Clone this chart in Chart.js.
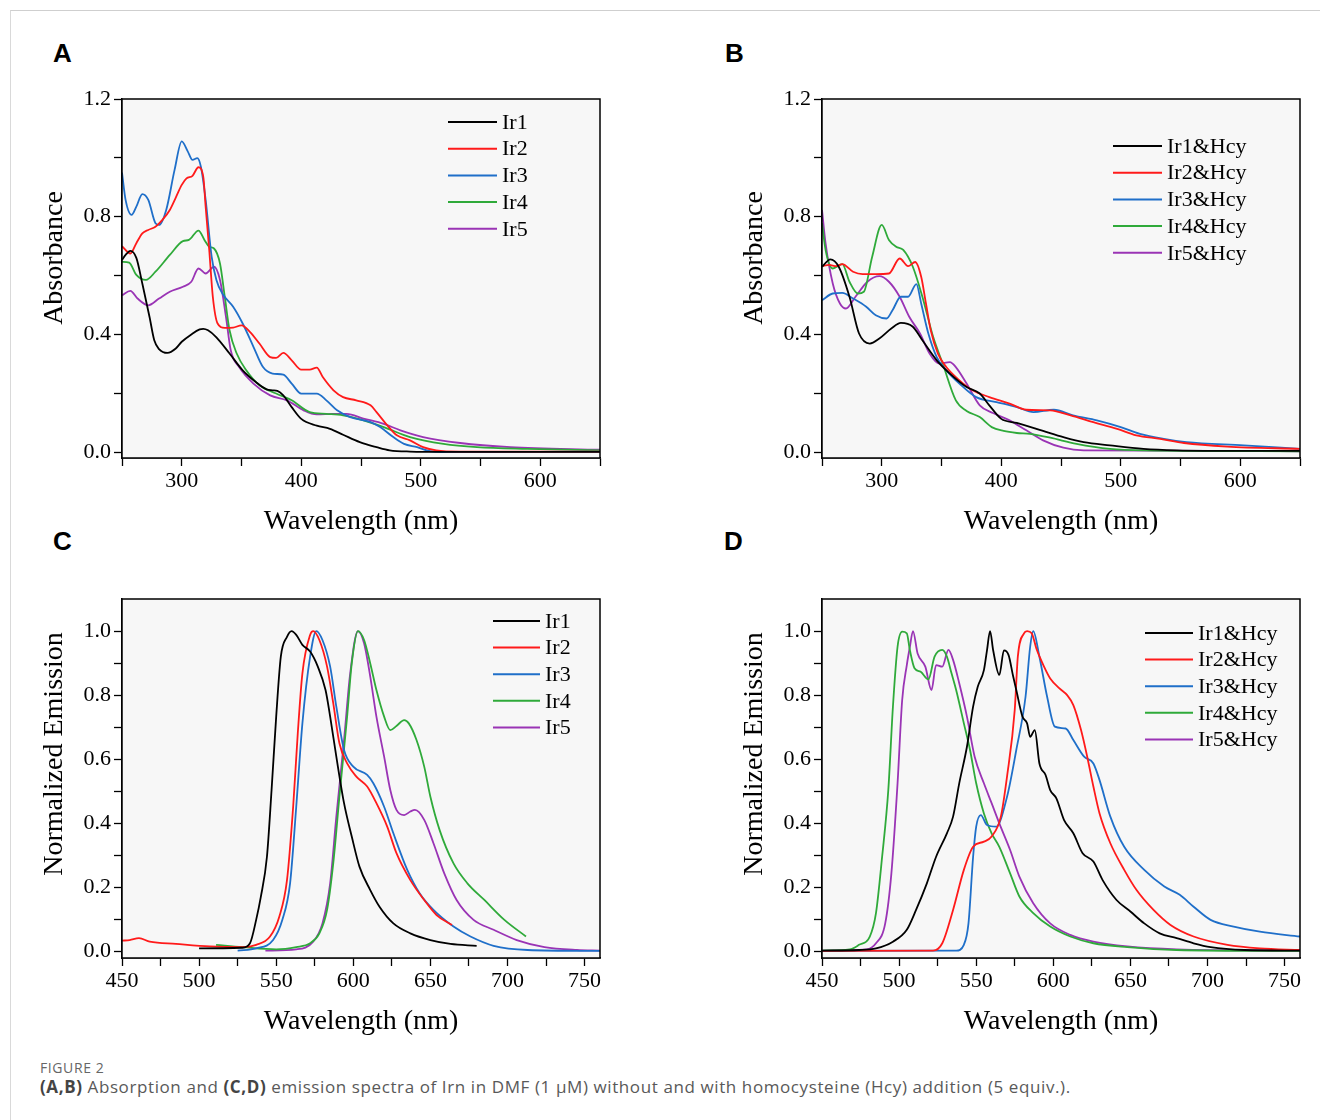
<!DOCTYPE html>
<html><head><meta charset="utf-8">
<script src="https://cdn.jsdelivr.net/npm/chart.js@4.4.1/dist/chart.umd.min.js"></script>
<style>
html,body{margin:0;padding:0;background:#fff;width:1320px;height:1120px;overflow:hidden;}
#page{position:absolute;left:10px;top:10px;width:1320px;height:1120px;border-top:1px solid #cfcfcf;border-left:1px solid #d9d9d9;}
canvas{position:absolute;}
.lbl{position:absolute;font:bold 26px "Liberation Sans",Arial,sans-serif;line-height:26px;color:#000;}
.cap1{position:absolute;left:40px;top:1060px;font:14px "Open Sans",sans-serif;letter-spacing:0.6px;line-height:16px;color:#666;}
.cap2{position:absolute;left:40px;top:1076px;font:17px "Open Sans",sans-serif;letter-spacing:0.6px;line-height:22px;color:#595959;white-space:nowrap;}
.cap2 b{color:#444;}
</style></head>
<body>
<div id="page"></div>
<div class="lbl" style="left:53px;top:40px">A</div>
<div class="lbl" style="left:725px;top:40px">B</div>
<div class="lbl" style="left:53px;top:528px">C</div>
<div class="lbl" style="left:724px;top:528px">D</div>
<canvas id="cA" width="660" height="460" style="left:0;top:80px"></canvas>
<canvas id="cB" width="620" height="460" style="left:700px;top:80px"></canvas>
<canvas id="cC" width="660" height="460" style="left:0;top:580px"></canvas>
<canvas id="cD" width="620" height="460" style="left:700px;top:580px"></canvas>
<div class="cap1">FIGURE 2</div>
<div class="cap2"><b>(A,B)</b> Absorption and <b>(C,D)</b> emission spectra of Irn in DMF (1 μM) without and with homocysteine (Hcy) addition (5 equiv.).</div>
<script>
// ---------- series names & colours ----------
const absNames = ['Ir1','Ir2','Ir3','Ir4','Ir5'];
const hcyNames = ['Ir1&Hcy','Ir2&Hcy','Ir3&Hcy','Ir4&Hcy','Ir5&Hcy'];
const seriesColors = ['#000000','#ff1a1a','#1f6fc9','#2faa3a','#9a34b5'];

// ---------- axis ticks ----------
const absXTicks = [250,300,350,400,450,500,550,600,650];
const absXLabels = ['','300','','400','','500','','600',''];
const absYTicks = [0,0.2,0.4,0.6,0.8,1.0,1.2];
const absYLabels = ['0.0','','0.4','','0.8','','1.2'];
const emXTicks = [450,475,500,525,550,575,600,625,650,675,700,725,750];
const emXLabels = ['450','','500','','550','','600','','650','','700','','750'];
const emYTicks = [0,0.1,0.2,0.3,0.4,0.5,0.6,0.7,0.8,0.9,1.0];
const emYLabels = ['0.0','','0.2','','0.4','','0.6','','0.8','','1.0'];

// ---------- (A) absorption ----------
const absIr1Wl = [250,253,257,262,267,273,277,281,288,295,300,308,315,318,322,329,340,351,362,371,376,380,385,392,400,413,424,435,449,463,474,491,520,560,600,650];
const absIr1 = [0.653,0.67,0.684,0.66,0.573,0.46,0.38,0.35,0.337,0.352,0.375,0.4,0.417,0.419,0.414,0.39,0.335,0.278,0.238,0.213,0.21,0.208,0.193,0.153,0.113,0.09,0.079,0.059,0.034,0.017,0.006,0.002,0.001,0.001,0.001,0.001];
const absIr2Wl = [250,257,262,267,272,278,284,290,295,300,304,309,314,318,320,323,326,330,336,343,350,357,365,374,379,385,392,400,407,413,418,427,435,446,458,463,472,480,491,502,513,533,560,600,650];
const absIr2 = [0.70,0.675,0.71,0.743,0.755,0.766,0.79,0.823,0.865,0.908,0.93,0.939,0.968,0.936,0.834,0.687,0.528,0.437,0.422,0.423,0.431,0.409,0.369,0.323,0.32,0.337,0.312,0.28,0.28,0.287,0.255,0.21,0.187,0.176,0.159,0.136,0.091,0.057,0.04,0.017,0.006,0.002,0.002,0.002,0.002];
const absIr3Wl = [250,253,258,262,267,272,278,281,287,294,300,305,309,313,316,320,325,329,334,343,351,360,368,376,385,392,400,413,421,430,441,458,466,477,486,497,508,530,560,600,650];
const absIr3 = [0.95,0.857,0.806,0.834,0.877,0.857,0.778,0.772,0.823,0.959,1.056,1.022,0.993,0.999,0.97,0.857,0.664,0.585,0.539,0.494,0.437,0.358,0.289,0.267,0.263,0.233,0.199,0.199,0.176,0.142,0.119,0.102,0.085,0.051,0.028,0.017,0.003,0.0,0.0,0.001,0.002];
const absIr4Wl = [250,256,262,270,278,290,301,306,314,319,323,327,332,336,340,346,354,365,379,392,407,421,435,452,469,491,519,547,589,650];
const absIr4 = [0.647,0.644,0.602,0.585,0.613,0.67,0.717,0.721,0.753,0.721,0.698,0.692,0.641,0.528,0.414,0.335,0.278,0.227,0.199,0.176,0.136,0.13,0.125,0.108,0.085,0.051,0.028,0.017,0.011,0.006];
const absIr5Wl = [250,257,263,272,281,290,301,308,314,320,327,332,337,341,348,360,374,388,402,413,427,438,452,469,483,502,533,575,650];
const absIr5 = [0.533,0.548,0.522,0.499,0.522,0.545,0.562,0.579,0.624,0.607,0.63,0.585,0.46,0.346,0.289,0.233,0.193,0.176,0.142,0.128,0.13,0.13,0.114,0.096,0.074,0.051,0.031,0.017,0.008];

// ---------- (B) absorption + Hcy ----------
const hAbsIr1Wl = [250,257,264,273,281,290,298,308,316,326,334,346,357,371,382,390,400,413,435,452,469,491,519,547,600,650];
const hAbsIr1 = [0.63,0.655,0.63,0.528,0.403,0.369,0.386,0.42,0.439,0.426,0.38,0.312,0.267,0.221,0.199,0.159,0.113,0.099,0.072,0.051,0.034,0.023,0.011,0.006,0.004,0.004];
const hAbsIr2Wl = [250,256,262,267,276,284,295,306,315,322,328,333,337,341,347,354,365,376,390,407,421,441,458,477,497,513,533,553,589,650];
const hAbsIr2 = [0.632,0.636,0.632,0.639,0.613,0.605,0.605,0.607,0.658,0.632,0.646,0.596,0.505,0.414,0.335,0.289,0.244,0.21,0.187,0.165,0.144,0.142,0.125,0.102,0.079,0.057,0.045,0.031,0.019,0.011];
const hAbsIr3Wl = [250,259,267,276,287,295,304,309,316,322,329,333,339,346,354,365,379,396,413,427,444,460,480,500,516,536,555,603,650];
const hAbsIr3 = [0.516,0.539,0.541,0.522,0.494,0.465,0.454,0.482,0.528,0.528,0.571,0.505,0.403,0.323,0.278,0.233,0.187,0.17,0.153,0.136,0.144,0.125,0.108,0.085,0.062,0.045,0.034,0.023,0.011];
const hAbsIr4Wl = [250,253,259,267,273,280,285,292,300,306,312,318,326,334,343,351,362,371,382,392,402,413,424,441,463,491,519,650];
const hAbsIr4 = [0.778,0.687,0.624,0.639,0.579,0.539,0.545,0.664,0.772,0.721,0.698,0.687,0.63,0.528,0.392,0.301,0.176,0.14,0.119,0.085,0.072,0.065,0.062,0.049,0.028,0.011,0.006,0.003];
const hAbsIr5Wl = [250,253,259,265,270,278,288,298,306,315,323,332,340,348,357,362,371,382,393,407,421,435,452,469,650];
const hAbsIr5 = [0.823,0.709,0.573,0.505,0.488,0.528,0.579,0.598,0.579,0.528,0.46,0.403,0.335,0.301,0.306,0.289,0.233,0.159,0.133,0.108,0.074,0.04,0.015,0.006,0.003];

// ---------- (C) emission ----------
const emIr1Wl = [500,528,533,537,540,544,547,550,553,557,560,563,567,572,577,582,585,589,594,599,604,611,617,626,637,650,663,680];
const emIr1 = [0.01,0.012,0.026,0.099,0.17,0.296,0.504,0.733,0.92,0.982,1.0,0.988,0.957,0.936,0.889,0.816,0.733,0.608,0.463,0.359,0.265,0.192,0.14,0.088,0.057,0.036,0.024,0.018];
const emIr2Wl = [450,455,461,468,485,507,528,537,546,552,557,561,564,567,572,574,578,583,587,591,596,602,609,615,622,628,637,646,654,664];
const emIr2 = [0.034,0.036,0.042,0.031,0.024,0.016,0.014,0.021,0.047,0.109,0.223,0.452,0.681,0.868,0.988,1.0,0.972,0.889,0.775,0.65,0.587,0.546,0.515,0.463,0.39,0.307,0.223,0.161,0.114,0.083];
const emIr3Wl = [525,537,548,554,559,563,567,572,576,580,585,589,594,600,609,613,620,626,635,643,652,665,676,691,713,760];
const emIr3 = [0.003,0.01,0.036,0.099,0.213,0.452,0.712,0.92,1.0,0.972,0.889,0.764,0.629,0.577,0.551,0.525,0.452,0.369,0.255,0.182,0.13,0.078,0.047,0.018,0.005,0.002];
const emIr4Wl = [511,528,550,563,572,578,583,587,591,596,599,603,607,611,615,620,624,628,633,636,641,646,650,656,665,674,685,698,712];
const emIr4 = [0.021,0.014,0.007,0.014,0.026,0.057,0.13,0.275,0.483,0.733,0.899,1.0,0.972,0.899,0.816,0.733,0.691,0.704,0.722,0.712,0.66,0.577,0.483,0.379,0.275,0.213,0.161,0.099,0.047];
const emIr5Wl = [543,563,574,580,585,589,594,598,603,607,611,615,620,624,628,633,637,640,646,652,659,667,678,691,706,724,745,760];
const emIr5 = [0.003,0.007,0.031,0.088,0.213,0.421,0.66,0.868,1.0,0.962,0.858,0.733,0.608,0.504,0.442,0.426,0.437,0.442,0.411,0.338,0.244,0.161,0.099,0.068,0.036,0.014,0.005,0.003];

// ---------- (D) emission + Hcy ----------
const hEmIr1Wl = [450,474,485,496,505,511,518,524,531,535,539,544,548,551,555,557,559,561,565,568,571,574,576,580,583,585,588,591,595,598,602,607,613,619,626,632,641,650,659,669,680,691,702,724,760];
const hEmIr1 = [0.003,0.005,0.01,0.031,0.068,0.13,0.213,0.296,0.369,0.421,0.525,0.639,0.764,0.826,0.878,0.94,1.0,0.94,0.863,0.94,0.925,0.858,0.816,0.733,0.712,0.67,0.691,0.587,0.551,0.504,0.478,0.41,0.369,0.307,0.281,0.223,0.161,0.125,0.088,0.057,0.042,0.026,0.014,0.005,0.003];
const hEmIr2Wl = [450,522,528,535,542,548,555,560,566,570,575,577,581,583,586,589,594,598,604,609,613,618,622,626,630,637,646,654,665,676,691,713,734,760];
const hEmIr2 = [0.002,0.003,0.026,0.13,0.255,0.327,0.343,0.359,0.421,0.546,0.754,0.92,0.993,1.0,0.993,0.946,0.889,0.852,0.821,0.8,0.769,0.691,0.608,0.515,0.431,0.338,0.255,0.192,0.13,0.083,0.047,0.021,0.01,0.005];
const hEmIr3Wl = [450,537,542,545,548,550,553,557,563,570,576,582,585,587,591,596,601,608,613,620,626,630,637,646,659,672,682,691,702,717,734,760];
const hEmIr3 = [0.002,0.003,0.021,0.088,0.296,0.39,0.426,0.395,0.39,0.483,0.629,0.795,0.951,1.0,0.92,0.795,0.702,0.696,0.66,0.608,0.587,0.535,0.421,0.327,0.255,0.203,0.177,0.14,0.099,0.078,0.062,0.047];
const hEmIr4Wl = [450,468,474,481,485,489,493,496,499,502,505,507,510,514,519,523,528,531,534,537,542,546,550,555,560,565,572,578,587,598,611,626,648,680,760];
const hEmIr4 = [0.003,0.007,0.021,0.047,0.12,0.296,0.504,0.764,0.951,0.998,0.993,0.94,0.884,0.873,0.849,0.92,0.941,0.92,0.868,0.816,0.712,0.629,0.525,0.431,0.369,0.327,0.244,0.172,0.12,0.078,0.047,0.026,0.014,0.005,0.002];
const hEmIr5Wl = [450,479,485,491,495,499,502,505,507,509,512,517,521,524,528,532,535,539,544,549,555,560,565,572,578,587,598,611,626,648,680,760];
const hEmIr5 = [0.003,0.007,0.026,0.088,0.244,0.525,0.785,0.894,0.951,1.0,0.93,0.889,0.816,0.894,0.889,0.941,0.91,0.837,0.733,0.608,0.525,0.463,0.4,0.317,0.234,0.151,0.088,0.052,0.031,0.016,0.007,0.003];

// ---------- helpers ----------
const SERIF = '"Liberation Serif","Times New Roman",serif';
function mkSets(names, wls, vals){
  return names.map((n,i)=>({
    label:n,
    data: wls[i].map((w,j)=>({x:w,y:vals[i][j]})),
    borderColor: seriesColors[i], backgroundColor: seriesColors[i],
    borderWidth:1.8, pointRadius:0, fill:false,
    cubicInterpolationMode:'monotone'
  }));
}

const framePlugin = {
  id:'frame',
  beforeDatasetsDraw(chart){
    const a=chart.chartArea, c=chart.ctx;
    c.save(); c.fillStyle='#f7f7f7'; c.fillRect(a.left,a.top,a.right-a.left,a.bottom-a.top); c.restore();
  },
  afterDraw(chart){
    const a=chart.chartArea, c=chart.ctx;
    c.save(); c.strokeStyle='#000'; c.lineWidth=1.5;
    c.strokeRect(a.left,a.top,a.right-a.left,a.bottom-a.top); c.restore();
  }
};
const legendPlugin = {
  id:'specLegend',
  afterDraw(chart,args,o){
    const c=chart.ctx; c.save();
    c.font='22px '+SERIF; c.textBaseline='middle'; c.textAlign='left';
    chart.data.datasets.forEach((d,i)=>{
      const y=o.y+i*o.dy;
      c.strokeStyle=d.borderColor; c.lineWidth=2;
      c.beginPath(); c.moveTo(o.x1,y); c.lineTo(o.x2,y); c.stroke();
      c.fillStyle='#000'; c.fillText(d.label,o.tx,y+1);
    });
    c.restore();
  }
};
const yTitlePlugin = {
  id:'yTitle',
  afterDraw(chart,args,o){
    const c=chart.ctx; c.save();
    c.translate(o.x,o.y); c.rotate(-Math.PI/2);
    c.font='28px '+SERIF; c.fillStyle='#000'; c.textAlign='center'; c.textBaseline='alphabetic';
    c.fillText(o.text,0,0); c.restore();
  }
};

function makeChart(id, datasets, cfg){
  const tickFont={family:SERIF,size:22};
  return new Chart(document.getElementById(id),{
    type:'line',
    data:{datasets},
    plugins:[framePlugin,legendPlugin,yTitlePlugin],
    options:{
      responsive:false, animation:false, devicePixelRatio:1,
      layout:{padding:{top:19,right:cfg.padRight,left:0,bottom:0}},
      plugins:{
        legend:{display:false}, tooltip:{enabled:false}, title:{display:false},
        specLegend:cfg.legend,
        yTitle:{text:cfg.yTitle,x:62,y:cfg.yTitleY}
      },
      scales:{
        x:{
          type:'linear', min:cfg.xMin, max:cfg.xMax,
          afterBuildTicks:s=>{s.ticks=cfg.xTicks.map(v=>({value:v}));},
          afterFit:s=>{s.height=82;},
          ticks:{autoSkip:false,maxRotation:0,minRotation:0,padding:2,color:'#000',font:tickFont,
                 callback:(v,i)=>cfg.xLabels[i]},
          grid:{drawOnChartArea:false,drawTicks:true,tickLength:8,tickColor:'#000',tickWidth:1.3},
          border:{display:true,color:'#000',width:1.5},
          title:{display:true,text:'Wavelength (nm)',color:'#000',font:{family:SERIF,size:28},padding:{top:0,bottom:2}}
        },
        y:{
          type:'linear', min:cfg.yMin, max:cfg.yMax,
          afterBuildTicks:s=>{s.ticks=cfg.yTicks.map(v=>({value:v}));},
          afterFit:s=>{s.width=122;},
          ticks:{autoSkip:false,padding:3,color:'#000',font:tickFont,
                 callback:(v,i)=>cfg.yLabels[i]},
          grid:{drawOnChartArea:false,drawTicks:true,tickLength:8,tickColor:'#000',tickWidth:1.3},
          border:{display:true,color:'#000',width:1.5},
          title:{display:false}
        }
      }
    }
  });
}

const absCfg = {xMin:250,xMax:650,xTicks:absXTicks,xLabels:absXLabels,yMin:-0.02,yMax:1.2,yTicks:absYTicks,yLabels:absYLabels,yTitle:'Absorbance',yTitleY:178};
const emCfg = {xMin:450,xMax:760,xTicks:emXTicks,xLabels:emXLabels,yMin:-0.02,yMax:1.1,yTicks:emYTicks,yLabels:emYLabels,yTitle:'Normalized Emission',yTitleY:174};

makeChart('cA', mkSets(absNames,[absIr1Wl,absIr2Wl,absIr3Wl,absIr4Wl,absIr5Wl],[absIr1,absIr2,absIr3,absIr4,absIr5]),
  Object.assign({},absCfg,{padRight:60,legend:{x1:448,x2:497,tx:502,y:42,dy:26.7}}));
makeChart('cB', mkSets(hcyNames,[hAbsIr1Wl,hAbsIr2Wl,hAbsIr3Wl,hAbsIr4Wl,hAbsIr5Wl],[hAbsIr1,hAbsIr2,hAbsIr3,hAbsIr4,hAbsIr5]),
  Object.assign({},absCfg,{padRight:20,legend:{x1:413,x2:462,tx:467,y:66,dy:26.7}}));
makeChart('cC', mkSets(absNames,[emIr1Wl,emIr2Wl,emIr3Wl,emIr4Wl,emIr5Wl],[emIr1,emIr2,emIr3,emIr4,emIr5]),
  Object.assign({},emCfg,{padRight:60,legend:{x1:493,x2:540,tx:545,y:41,dy:26.6}}));
makeChart('cD', mkSets(hcyNames,[hEmIr1Wl,hEmIr2Wl,hEmIr3Wl,hEmIr4Wl,hEmIr5Wl],[hEmIr1,hEmIr2,hEmIr3,hEmIr4,hEmIr5]),
  Object.assign({},emCfg,{padRight:20,legend:{x1:445,x2:493,tx:498,y:53,dy:26.6}}));
</script>
</body></html>
